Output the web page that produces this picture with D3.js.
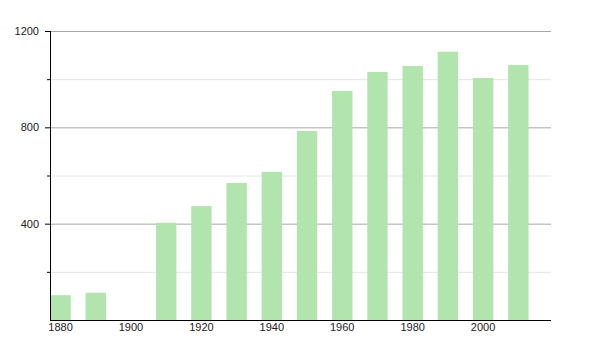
<!DOCTYPE html>
<html>
<head>
<meta charset="utf-8">
<script src="https://cdn.jsdelivr.net/npm/d3@7"></script>
<style>
  body { margin: 0; background: #fff; }
  text { font-family: "Liberation Sans", Arial, sans-serif; font-size: 11px; fill: #222; }
</style>
</head>
<body>
<script>
// Jahre und Werte
const years = [1880, 1890, 1910, 1920, 1930, 1940, 1950, 1960, 1970, 1980, 1990, 2000, 2010];
const values = [103, 113, 404, 473, 569, 615, 785, 951, 1030, 1055, 1114, 1005, 1059];
const yearTicks = [1880, 1900, 1920, 1940, 1960, 1980, 2000];
const majorTicks = [400, 800, 1200];
const minorTicks = [200, 600, 1000];

const width = 600;
const height = 350;

let svg = d3.select("body").append("svg")
  .attr("width", width)
  .attr("height", height);

let x = d3.scaleLinear().domain([1877, 2019]).range([50, 550]);
let y = d3.scaleLinear().domain([0, 1200]).range([320, 31]);

// Hilfslinien
svg.selectAll(".minor").data(minorTicks).enter().append("line")
  .attr("x1", 50).attr("x2", 551)
  .attr("y1", d => y(d) + 0.5).attr("y2", d => y(d) + 0.5)
  .style("stroke", "#e4e4e4");

svg.selectAll(".major").data(majorTicks).enter().append("line")
  .attr("x1", 50).attr("x2", 551)
  .attr("y1", d => y(d) + 0.5).attr("y2", d => y(d) + 0.5)
  .style("stroke", "#a8a8a8");

// Balken
let defs = svg.append("defs");
defs.append("filter").attr("id", "soft")
  .append("feGaussianBlur").attr("stdDeviation", 0.6);

svg.selectAll(".bar").data(years).enter().append("rect")
  .attr("x", d => x(d - 2.9))
  .attr("width", d => x(d + 2.9) - x(d - 2.9))
  .attr("y", (d, i) => y(values[i]))
  .attr("height", (d, i) => y(0) - y(values[i]))
  .style("fill", "#b2e4ae")
  .attr("filter", "url(#soft)");

// Achsen
svg.append("line")
  .attr("x1", 50.5).attr("x2", 50.5).attr("y1", 31).attr("y2", 320)
  .style("stroke", "#000");
svg.append("line")
  .attr("x1", 50).attr("x2", 551).attr("y1", 320.5).attr("y2", 320.5)
  .style("stroke", "#000");

svg.selectAll(".ytick").data(majorTicks).enter().append("line")
  .attr("x1", 45).attr("x2", 50)
  .attr("y1", d => y(d) + 0.5).attr("y2", d => y(d) + 0.5)
  .style("stroke", "#000");
svg.selectAll(".ymtick").data(minorTicks).enter().append("line")
  .attr("x1", 47).attr("x2", 50)
  .attr("y1", d => y(d) + 0.5).attr("y2", d => y(d) + 0.5)
  .style("stroke", "#000");

svg.selectAll(".ylabel").data(majorTicks).enter().append("text")
  .attr("x", 39)
  .attr("y", d => y(d) + 4)
  .attr("text-anchor", "end")
  .text(d => d);

svg.selectAll(".xlabel").data(yearTicks).enter().append("text")
  .attr("x", d => x(d))
  .attr("y", 331)
  .attr("text-anchor", "middle")
  .text(d => d);
</script>
</body>
</html>
